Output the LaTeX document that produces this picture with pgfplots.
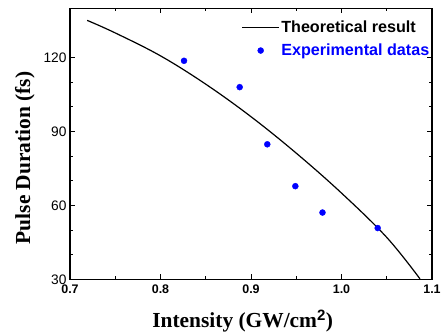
\documentclass[border=0pt]{standalone}
\usepackage{pgfplots}
\pgfplotsset{compat=1.18}
\usepackage{fontspec}
\setmainfont{Liberation Sans}
\newfontfamily\tnr{Liberation Serif}
\pgfplotsset{
  mylineleg/.style={legend image code/.code={\draw[##1] (0bp,0bp) -- (37bp,0bp);}},
  mymarkleg/.style={legend image code/.code={\draw[mark repeat=2,mark phase=2,##1] plot coordinates {(0bp,0bp)(18.5bp,0bp)(37bp,0bp)};}},
}
\begin{document}
\begin{tikzpicture}
\begin{axis}[
  scale only axis, width=362bp, height=271bp,
  xmin=0.7, xmax=1.1, ymin=30, ymax=140,
  xtick={0.7,0.8,0.9,1.0,1.1},
  xticklabels={0.7,0.8,0.9,1.0,1.1},
  ytick={30,60,90,120},
  minor x tick num=1, minor y tick num=2,
  tick align=inside,
  major tick length=5bp, minor tick length=3bp,
  axis line style={line width=1.1bp},
  every tick/.style={black, line width=0.9bp},
  /pgf/number format/assume math mode=true,
  x tick label style={font=\fontsize{12.5}{14}\selectfont\bfseries, yshift=-2bp},
  y tick label style={font=\fontsize{13.8}{14}\selectfont},
  xlabel={Intensity (GW/cm$^{\mathbf{2}}$)},
  ylabel={Pulse Duration (fs)},
  xlabel style={font=\fontsize{21.5}{24}\selectfont\tnr\bfseries, at={(axis description cs:0.477,-0.155)}, anchor=center},
  ylabel style={font=\fontsize{21.5}{24}\selectfont\tnr\bfseries, at={(axis description cs:-0.125,0.448)}, anchor=center},
  legend style={draw=none, fill=none, at={(rel axis cs:1.0,0.964)}, anchor=north east,
    font=\fontsize{16.2}{18}\selectfont\bfseries, inner sep=1bp, row sep=7bp,
    nodes={inner sep=1.5bp},
    /tikz/every even column/.append style={column sep=5bp}},
  legend cell align=left,
]
\addplot[black, line width=1.2bp, smooth, tension=0.6, mylineleg]
  coordinates {
  (0.719,135.1) (0.75,130.0) (0.80,120.7) (0.85,109.2) (0.90,96.0)
  (0.95,81.2) (1.00,65.0) (1.05,47.0) (1.0867,30.2)
  };
\addlegendentry{Theoretical result}
\addplot[only marks, mark=*, mark size=3bp, color=blue, mymarkleg]
  coordinates {
  (0.826,118.7) (0.8875,108.0) (0.918,84.8) (0.949,67.8) (0.979,57.1) (1.040,50.8)
  };
\addlegendentry{\textcolor{blue}{Experimental datas}}
\coordinate (sw) at (rel axis cs:0,0);
\end{axis}
\pgfresetboundingbox
\useasboundingbox (sw) ++(-70bp,-52.7bp) rectangle ++(443bp,332bp);
\end{tikzpicture}
\end{document}
